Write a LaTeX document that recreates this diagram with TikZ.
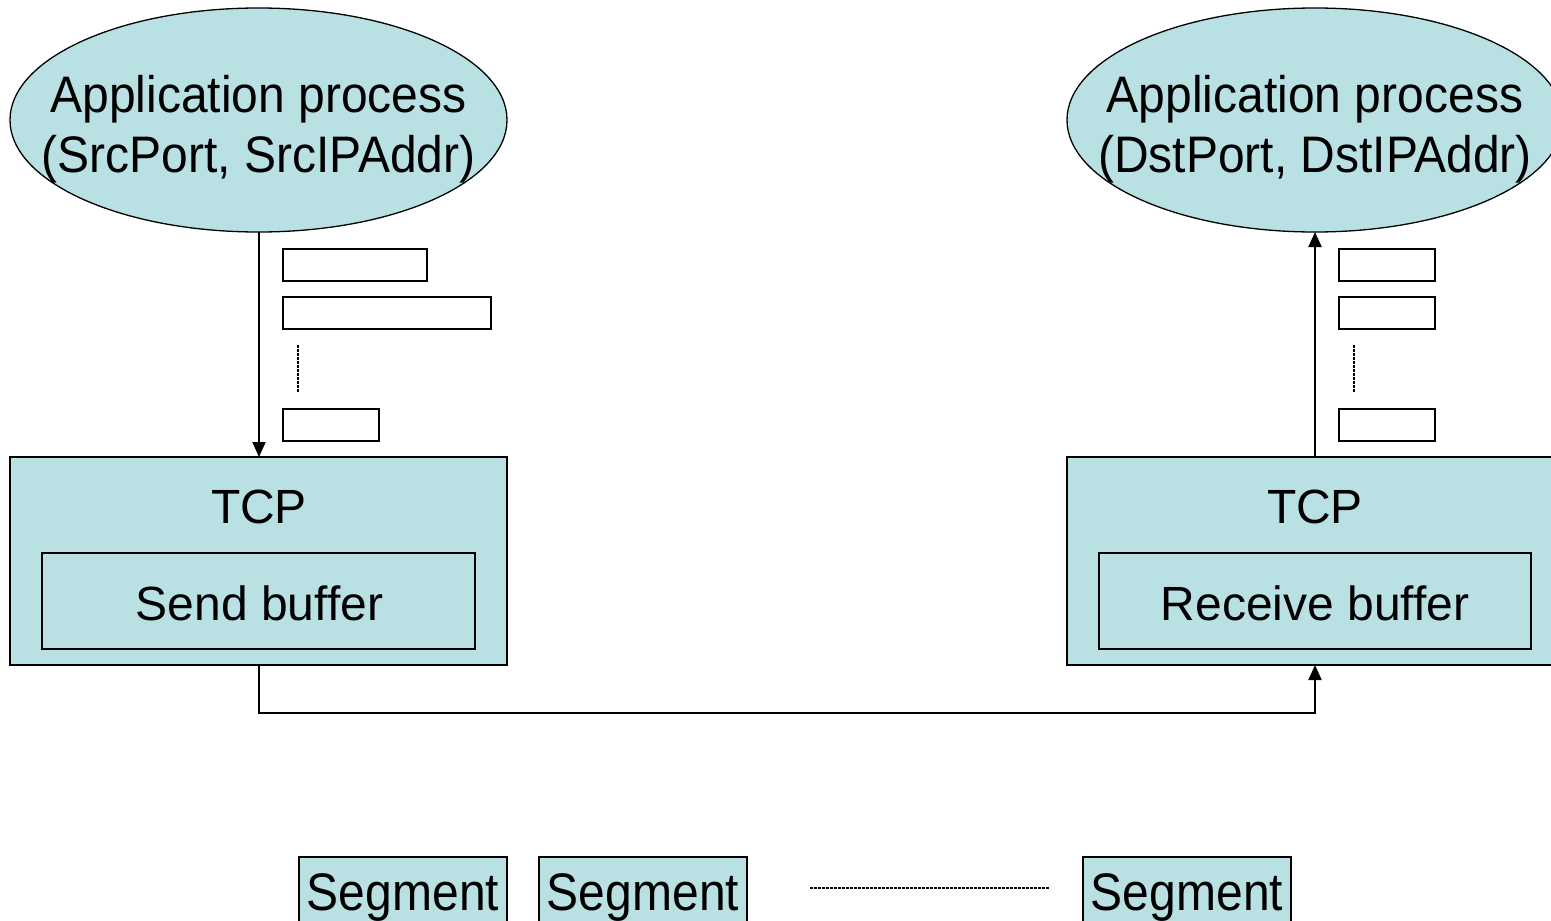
\documentclass[tikz,border=0pt]{standalone}
\usepackage{fontspec}
\usepackage{graphicx}
\setmainfont{Liberation Sans}
\usetikzlibrary{arrows.meta}
\definecolor{boxfill}{RGB}{185,224,227}
\tikzset{
  line/.style={line width=2pt},
  big/.style={font=\fontsize{48}{60}\selectfont, inner sep=0pt},
  tip/.style={-{Triangle[length=15pt,width=13pt]}},
  hollow/.style={draw, line width=2pt, fill=white},
  bluebox/.style={draw, line width=2pt, fill=boxfill},
  ellipsefill/.style={line width=1.3pt, fill=boxfill},
  dots/.style={line width=2.5pt, dash pattern=on 2.5pt off 1.5pt},
}
\begin{document}
\begin{tikzpicture}[x=1pt,y=-1pt]
\useasboundingbox (0,0) rectangle (1551,921);
\clip (0,0) rectangle (1551,921);
% ellipses
\draw[ellipsefill] (258.5,120) ellipse [x radius=248.5, y radius=112];
\draw[ellipsefill] (1315,120) ellipse [x radius=248, y radius=112];
\node[big, anchor=base] (appL) at (258.5,172) {\scalebox{1}[1.07]{\begin{tabular}[b]{@{}c@{}}Application process\\[-4pt](SrcPort, SrcIPAddr)\end{tabular}}};
\node[big, anchor=base] (appR) at (1315,172) {\scalebox{1}[1.07]{\begin{tabular}[b]{@{}c@{}}Application process\\[-4pt](DstPort, DstIPAddr)\end{tabular}}};
\coordinate (eL) at (259,232);
\coordinate (eR) at (1315,232);
% TCP boxes
\draw[bluebox] (10,457) rectangle (507,665);
\draw[bluebox] (42,553) rectangle (475,649);
\draw[bluebox] (1067,457) rectangle (1565,665);
\draw[bluebox] (1099,553) rectangle (1531,649);
\node[big, anchor=base] (tcpL) at (259,523) {TCP};
\node[big, anchor=base] (tcpR) at (1315,523) {TCP};
\node[big, anchor=base] (sendbuf) at (259.5,620) {Send buffer};
\node[big, anchor=base] (recvbuf) at (1315,620) {Receive buffer};
\coordinate (tL) at (259,457);
\coordinate (tR) at (1315,457);
\coordinate (bL) at (259,665);
\coordinate (bR) at (1315,665);
% arrows
\draw[line, tip] (eL) -- (tL);
\draw[line, tip] (tR) -- (eR);
\draw[line, tip] (bL) -- (259,713) -- (1315,713) -- (bR);
% small rectangles
\draw[hollow] (283,249) rectangle (427,281);
\draw[hollow] (283,297) rectangle (491,329);
\draw[hollow] (283,409) rectangle (379,441);
\draw[dots] (298,345) -- (298,393);
\draw[hollow] (1339,249) rectangle (1435,281);
\draw[hollow] (1339,297) rectangle (1435,329);
\draw[hollow] (1339,409) rectangle (1435,441);
\draw[dots] (1354,345) -- (1354,393);
% segments
\draw[bluebox] (299,857) rectangle (507,925);
\draw[bluebox] (539,857) rectangle (747,925);
\draw[bluebox] (1083,857) rectangle (1291,925);
\node[big, anchor=base] (s1) at (403,910) {\scalebox{1}[1.1]{Segment}};
\node[big, anchor=base] (s2) at (643,910) {\scalebox{1}[1.1]{Segment}};
\node[big, anchor=base] (s3) at (1187,910) {\scalebox{1}[1.1]{Segment}};
\draw[dots] (810,888) -- (1050,888);
\end{tikzpicture}
\end{document}
